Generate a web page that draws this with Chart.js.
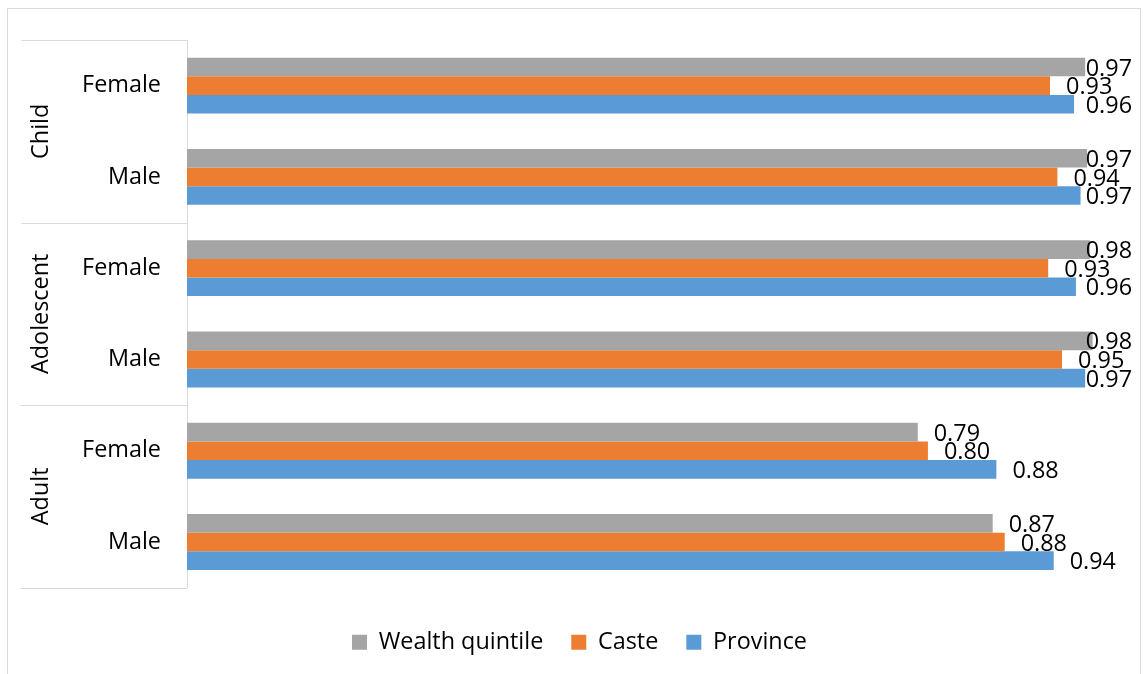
<!DOCTYPE html>
<html>
<head>
<meta charset="utf-8">
<script src="https://cdn.jsdelivr.net/npm/chart.js@4/dist/chart.umd.min.js"></script>
<style>
  html, body { margin: 0; padding: 0; background: #fff; }
  #wrap { width: 1143px; height: 674px; position: relative; }
</style>
</head>
<body>
<div id="wrap"><canvas id="c" width="1143" height="674"></canvas></div>
<script>
const subCategories = ["Female", "Male", "Female", "Male", "Female", "Male"];
const groups = ["Child", "Adolescent", "Adult"];
const groupSpan = [2, 2, 2];
const seriesNames = ["Wealth quintile", "Caste", "Province"];
const wealthQuintile = [0.971, 0.973, 0.976, 0.979, 0.790, 0.871];
const caste = [0.933, 0.941, 0.931, 0.946, 0.801, 0.884];
const province = [0.959, 0.966, 0.961, 0.971, 0.875, 0.937];
const colors = ["#A5A5A5", "#ED7D31", "#5B9BD5"];

const FONT = "'Open Sans', 'Noto Sans', sans-serif";
const FS = 23.4;

const framePlugin = {
  id: 'frame',
  beforeDraw(chart) {
    const ctx = chart.ctx;
    ctx.save();
    ctx.fillStyle = '#fff';
    ctx.fillRect(0, 0, chart.width, chart.height);
    ctx.strokeStyle = '#D9D9D9';
    ctx.lineWidth = 1;
    ctx.strokeRect(7.5, 8.5, 1133, 700);
    ctx.restore();
  }
};

const legendShift = {
  id: 'legendShift',
  afterLayout(chart) {
    if (chart.legend) {
      chart.legend.left += 13;
      chart.legend.right += 13;
    }
  }
};

const groupPlugin = {
  id: 'groups',
  afterDraw(chart) {
    const ctx = chart.ctx;
    const y = chart.scales.y;
    const area = chart.chartArea;
    const step = y.getPixelForValue(1) - y.getPixelForValue(0);
    ctx.save();
    ctx.strokeStyle = '#D9D9D9';
    ctx.lineWidth = 1;
    let idx = 0;
    const bounds = [];
    bounds.push(y.getPixelForValue(0) - step / 2);
    groups.forEach((g, gi) => {
      idx += groupSpan[gi];
      bounds.push(y.getPixelForValue(idx - 1) + step / 2);
    });
    bounds.forEach(b => {
      const yy = Math.round(b) + 0.5;
      ctx.beginPath();
      ctx.moveTo(21, yy);
      ctx.lineTo(area.left, yy);
      ctx.stroke();
    });
    ctx.fillStyle = '#000';
    ctx.font = FS + 'px ' + FONT;
    ctx.textAlign = 'center';
    ctx.textBaseline = 'middle';
    groups.forEach((g, gi) => {
      const cy = (bounds[gi] + bounds[gi + 1]) / 2;
      ctx.save();
      ctx.translate(41, cy);
      ctx.rotate(-Math.PI / 2);
      ctx.fillText(g, 0, 0);
      ctx.restore();
    });
    ctx.restore();
  }
};

const labelPlugin = {
  id: 'valueLabels',
  afterDatasetsDraw(chart) {
    const ctx = chart.ctx;
    const limit = chart.chartArea.right + 20;
    ctx.save();
    ctx.fillStyle = '#000';
    ctx.font = FS + 'px ' + FONT;
    ctx.textAlign = 'left';
    ctx.textBaseline = 'middle';
    chart.data.datasets.forEach((ds, di) => {
      const meta = chart.getDatasetMeta(di);
      meta.data.forEach((bar, i) => {
        const txt = ds.data[i].toFixed(2);
        const w = ctx.measureText(txt).width;
        let x = bar.x + 16;
        if (x + w > limit) x = limit - w;
        ctx.fillText(txt, x, bar.y + 2);
      });
    });
    ctx.restore();
  }
};

new Chart(document.getElementById('c'), {
  type: 'bar',
  data: {
    labels: subCategories,
    datasets: [
      { label: seriesNames[0], data: wealthQuintile, backgroundColor: colors[0] },
      { label: seriesNames[1], data: caste, backgroundColor: colors[1] },
      { label: seriesNames[2], data: province, backgroundColor: colors[2] }
    ]
  },
  options: {
    indexAxis: 'y',
    responsive: false,
    animation: false,
    devicePixelRatio: 1,
    layout: { padding: { left: 21, right: 31, top: 38, bottom: 10 } },
    datasets: { bar: { categoryPercentage: 0.612, barPercentage: 1.0, borderWidth: 0 } },
    scales: {
      x: {
        display: true, min: 0, max: 1,
        grid: { display: false, drawTicks: false },
        border: { display: false },
        ticks: { display: false },
        afterFit(scale) { scale.height = 15; }
      },
      y: {
        grid: { display: false, drawTicks: false },
        border: { display: true, color: '#D9D9D9', width: 1 },
        ticks: { color: '#000', font: { family: FONT, size: FS }, padding: 26 },
        afterFit(scale) { scale.width = 166; }
      }
    },
    plugins: {
      legend: {
        position: 'bottom',
        labels: {
          color: '#000',
          font: { family: FONT, size: FS },
          boxWidth: 15, boxHeight: 15,
          padding: 28
        }
      },
      tooltip: { enabled: false }
    }
  },
  plugins: [framePlugin, legendShift, groupPlugin, labelPlugin]
});
</script>
</body>
</html>
